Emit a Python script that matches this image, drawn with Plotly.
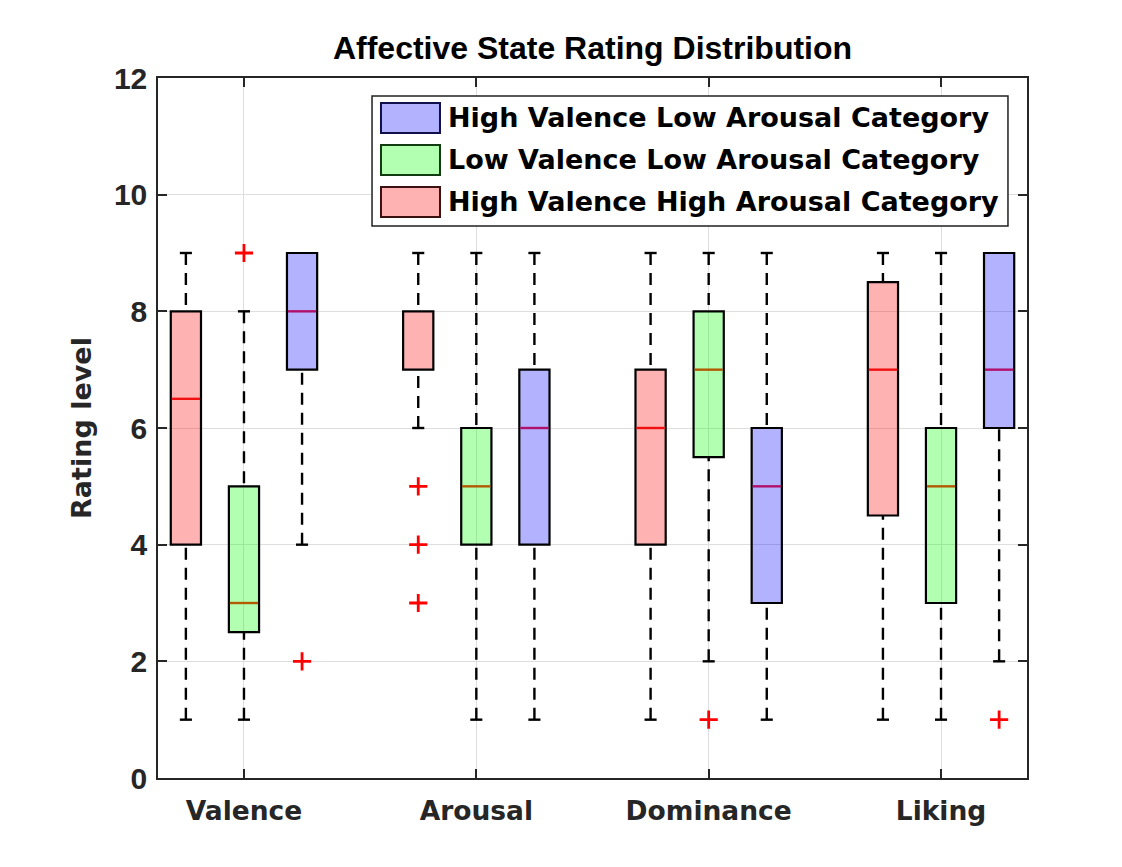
import plotly.graph_objects as go

# ---------------- data ----------------
categories = ["Valence", "Arousal", "Dominance", "Liking"]
y_ticks = [0, 2, 4, 6, 8, 10, 12]

# High Valence High Arousal (red)
hvha_q1 = [4, 7, 4, 4.5]
hvha_median = [6.5, 7, 6, 7]
hvha_q3 = [8, 8, 7, 8.5]
hvha_low = [1, 6, 1, 1]
hvha_high = [9, 9, 9, 9]
hvha_outliers = [[], [5, 4, 3], [], []]

# Low Valence Low Arousal (green)
lvla_q1 = [2.5, 4, 5.5, 3]
lvla_median = [3, 5, 7, 5]
lvla_q3 = [5, 6, 8, 6]
lvla_low = [1, 1, 2, 1]
lvla_high = [8, 9, 9, 9]
lvla_outliers = [[9], [], [1], []]

# High Valence Low Arousal (blue)
hvla_q1 = [7, 4, 3, 6]
hvla_median = [8, 6, 5, 7]
hvla_q3 = [9, 7, 6, 9]
hvla_low = [4, 1, 1, 2]
hvla_high = [9, 9, 9, 9]
hvla_outliers = [[2], [], [], [1]]

series = [
    dict(name="High Valence High Arousal Category", q1=hvha_q1, med=hvha_median, q3=hvha_q3,
         low=hvha_low, high=hvha_high, out=hvha_outliers, offset=-0.25,
         fill="rgba(255,0,0,0.3)", med_color="#f01010", edge="#3a1010"),
    dict(name="Low Valence Low Arousal Category", q1=lvla_q1, med=lvla_median, q3=lvla_q3,
         low=lvla_low, high=lvla_high, out=lvla_outliers, offset=0.0,
         fill="rgba(0,255,0,0.3)", med_color="#b25a00", edge="#103a10"),
    dict(name="High Valence Low Arousal Category", q1=hvla_q1, med=hvla_median, q3=hvla_q3,
         low=hvla_low, high=hvla_high, out=hvla_outliers, offset=0.25,
         fill="rgba(0,0,255,0.3)", med_color="#b0106a", edge="#10104a"),
]
legend_order = [2, 1, 0]

BOX_W = 0.13
CAP_HALF = 0.026
FONT = "Liberation Sans, Arial, sans-serif"
FONT2 = "DejaVu Sans, sans-serif"

fig = go.Figure()

for s in series:
    xs = [i + 1 + s["offset"] for i in range(len(categories))]
    # boxes
    fig.add_trace(go.Bar(
        x=xs, base=s["q1"], y=[b - a for a, b in zip(s["q1"], s["q3"])],
        width=BOX_W, marker=dict(color=s["fill"], line=dict(color="black", width=2.2)),
        showlegend=False, hoverinfo="skip"))
    # whiskers and caps
    wx, wy, cx, cy = [], [], [], []
    for x, q1, q3, lo, hi in zip(xs, s["q1"], s["q3"], s["low"], s["high"]):
        if hi > q3:
            wx += [x, x, None]; wy += [hi, q3, None]
            cx += [x - CAP_HALF, x + CAP_HALF, None]; cy += [hi, hi, None]
        if lo < q1:
            wx += [x, x, None]; wy += [lo, q1, None]
            cx += [x - CAP_HALF, x + CAP_HALF, None]; cy += [lo, lo, None]
    fig.add_trace(go.Scatter(x=wx, y=wy, mode="lines",
                             line=dict(color="black", width=2.4, dash="12px,8px"),
                             showlegend=False, hoverinfo="skip"))
    fig.add_trace(go.Scatter(x=cx, y=cy, mode="lines",
                             line=dict(color="black", width=2.4),
                             showlegend=False, hoverinfo="skip"))
    # medians
    mx, my = [], []
    for x, q1, m, q3 in zip(xs, s["q1"], s["med"], s["q3"]):
        if q1 < m < q3:
            mx += [x - BOX_W / 2 + 0.004, x + BOX_W / 2 - 0.004, None]; my += [m, m, None]
    fig.add_trace(go.Scatter(x=mx, y=my, mode="lines",
                             line=dict(color=s["med_color"], width=2.4),
                             showlegend=False, hoverinfo="skip"))
    # outliers
    ox, oy = [], []
    for x, outs in zip(xs, s["out"]):
        for v in outs:
            ox.append(x); oy.append(v)
    fig.add_trace(go.Scatter(x=ox, y=oy, mode="markers",
                             marker=dict(symbol="cross-thin", size=13,
                                         line=dict(color="red", width=2.8)),
                             showlegend=False, hoverinfo="skip"))

# ---------------- manual legend (MATLAB style) ----------------
L_X0, L_X1 = 0.2463, 0.9781
L_Y0, L_Y1 = 0.7886, 0.9743
row_y = [0.9429, 0.8829, 0.8229]
shapes = [dict(type="rect", xref="paper", yref="paper", x0=L_X0, x1=L_X1, y0=L_Y0, y1=L_Y1,
               line=dict(color="#202020", width=1.5), fillcolor="white", layer="above")]
annotations = []
for r, idx in enumerate(legend_order):
    s = series[idx]
    shapes.append(dict(type="rect", xref="paper", yref="paper",
                       x0=0.2566, x1=0.3245, y0=row_y[r] - 0.0214, y1=row_y[r] + 0.0214,
                       line=dict(color=s["edge"], width=2), fillcolor=s["fill"], layer="above"))
    annotations.append(dict(xref="paper", yref="paper", x=0.3315, y=row_y[r],
                            xanchor="left", yanchor="middle", showarrow=False, text=s["name"],
                            font=dict(family=FONT2, size=27, color="black", weight="bold")))

axis_common = dict(showline=True, linecolor="#262626", linewidth=1.5, mirror="ticks",
                   ticks="inside", ticklen=9, tickwidth=1.5, tickcolor="#262626",
                   showgrid=True, gridcolor="#dedede", gridwidth=1, zeroline=False)

fig.update_layout(
    width=1122, height=867,
    margin=dict(l=150, r=103, t=70, b=97),
    paper_bgcolor="white", plot_bgcolor="white",
    barmode="overlay",
    showlegend=False,
    title=dict(text="Affective State Rating Distribution", x=0.5, xref="paper",
               y=1 - 40 / 867, yref="container", xanchor="center", yanchor="middle",
               font=dict(family=FONT, size=32, color="black", weight="bold")),
    xaxis=dict(range=[0.63, 4.37], tickvals=[1, 2, 3, 4], ticktext=categories,
               tickfont=dict(family=FONT2, size=26.5, color="#262626", weight="bold"),
               ticklabelstandoff=8, **axis_common),
    yaxis=dict(range=[0, 12], tickvals=y_ticks, ticktext=[str(v) for v in y_ticks],
               tickfont=dict(family=FONT, size=30, color="#262626", weight="bold"),
               ticklabelstandoff=3,
               title=dict(text="Rating level", standoff=14,
                          font=dict(family=FONT2, size=27, color="#262626", weight="bold")),
               **axis_common),
    shapes=shapes,
    annotations=annotations,
)

fig.write_html("out.html")
